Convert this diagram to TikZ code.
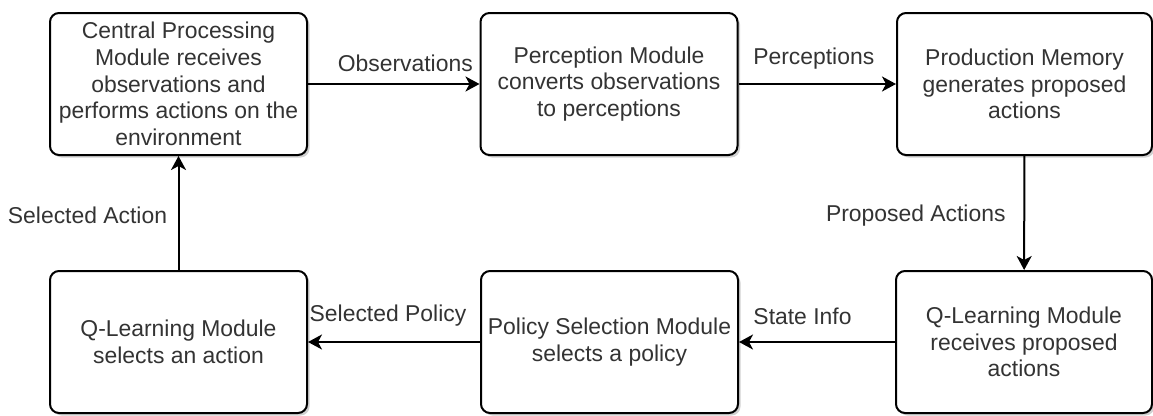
\documentclass[tikz,border=0pt]{standalone}
\usepackage{fontspec}
\setmainfont{Liberation Sans}
\usetikzlibrary{arrows.meta,shadows}
\definecolor{txt}{HTML}{333333}
\begin{document}
\begin{tikzpicture}[x=1pt,y=-1pt,
  module/.style={draw=black, line width=2pt, rounded corners=9pt, fill=white,
    minimum width=257pt, minimum height=142pt, align=center, text=txt,
    font=\fontsize{22.9}{26.7}\selectfont, inner sep=0pt,
    drop shadow={shadow xshift=2.5pt, shadow yshift=-2.5pt, opacity=0.3, fill=black!60}},
  flow/.style={draw=black, line width=2pt, -{Stealth[length=14pt,width=15pt,inset=4pt]}},
  lbl/.style={text=txt, font=\fontsize{22.9}{26.7}\selectfont, inner sep=0pt}]
\useasboundingbox (0,0) rectangle (1153,415);

% top row
\node[module] (cpm) at (178.5,84) {Central Processing\\Module receives\\observations and\\performs actions on the\\environment};
\node[module] (per) at (609,84) {Perception Module\\converts observations\\to perceptions};
\node[module, minimum width=255pt] (prod) at (1024.5,84) {Production Memory\\generates proposed\\actions};

% bottom row
\node[module, minimum width=256pt] (qrec) at (1024,342) {Q-Learning Module\\receives proposed\\actions};
\node[module] (pol) at (609.5,342) {Policy Selection Module\\selects a policy};
\node[module] (qsel) at (178.5,342) {Q-Learning Module\\selects an action};

% connectors
\draw[flow] (cpm) -- node[lbl, xshift=11.5pt, yshift=21pt] {Observations} (per);
\draw[flow] (per) -- node[lbl, xshift=-3.5pt, yshift=25pt] {Perceptions} (prod);
\draw[flow] (prod) -- node[lbl, xshift=-108.5pt, yshift=-2.5pt] {Proposed Actions} (qrec);
\draw[flow] (qrec) -- node[lbl, xshift=-14.5pt, yshift=25.5pt] {State Info} (pol);
\draw[flow] (pol) -- node[lbl, xshift=-6pt, yshift=26pt] {Selected Policy} (qsel);
\draw[flow] (qsel) -- node[lbl, xshift=-91pt, yshift=-2.5pt] {Selected Action} (cpm);
\end{tikzpicture}
\end{document}
